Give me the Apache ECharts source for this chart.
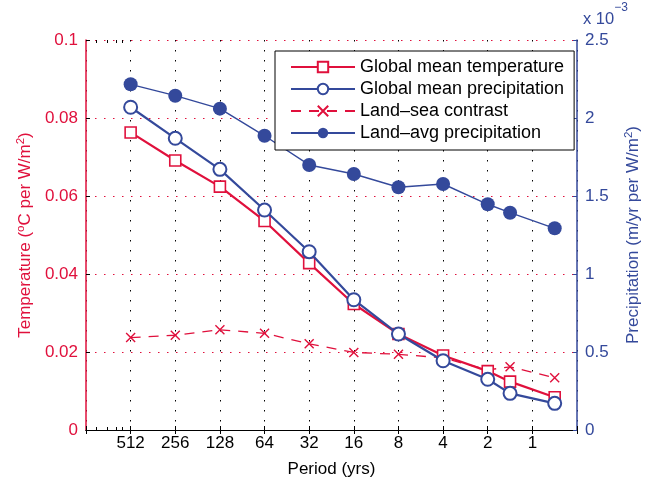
<!DOCTYPE html>
<html>
<head>
<meta charset="utf-8">
<script src="https://cdn.jsdelivr.net/npm/echarts@6/dist/echarts.min.js"></script>
<style>
  html, body { margin: 0; padding: 0; background: #fff; }
  #chart { width: 650px; height: 483px; }
</style>
</head>
<body>
<div id="chart"></div>
<script>
// 周期（年），横轴为对数坐标并反向
const periods = [512, 256, 128, 64, 32, 16, 8, 4, 2, 1.414, 0.707]
const xTickLabels = [512, 256, 128, 64, 32, 16, 8, 4, 2, 1]
// 左端的小刻度
const xMinorTicks = [870, 740, 645, 580]
// 左轴：温度 (°C per W/m²)
const globalTemp = [0.0763, 0.0691, 0.0624, 0.0536, 0.0428, 0.0323, 0.0246, 0.0191, 0.0151, 0.0124, 0.0084]
const landSea = [0.0237, 0.0243, 0.0257, 0.0248, 0.0221, 0.0199, 0.0194, 0.0185, 0.0154, 0.0162, 0.0134]
// 右轴：降水 (x 10^-3 m/yr per W/m²)
const globalPrecip = [2.069, 1.87, 1.671, 1.41, 1.143, 0.835, 0.615, 0.444, 0.325, 0.235, 0.171]
const landPrecip = [2.216, 2.143, 2.06, 1.886, 1.699, 1.641, 1.556, 1.577, 1.447, 1.393, 1.293]

const RED = '#e0103c'
const BLUE = '#34499b'
const FONT = 'Liberation Sans'

const pairs = vals => periods.map((p, i) => [p, vals[i]])

const chart = echarts.init(document.getElementById('chart'))

const xBase = {
  type: 'log',
  logBase: 2,
  min: 0.5,
  max: 1024,
  interval: 1,
  inverse: true,
  gridIndex: 0
}

// 只画小刻度的辅助轴
const minorAxis = pos => Object.assign({}, xBase, {
  position: pos,
  axisLine: { show: false },
  axisTick: { show: true, inside: true, length: 3, customValues: xMinorTicks, lineStyle: { color: '#000' } },
  axisLabel: { show: false },
  splitLine: { show: false }
})

const options = {
  animation: false,
  textStyle: { fontFamily: FONT },
  grid: { left: 86, right: 68, top: 40, bottom: 53 },
  legend: {
    orient: 'vertical',
    left: 275,
    top: 51,
    width: 297,
    borderColor: '#000',
    borderWidth: 1,
    padding: [7, 10, 8, 15],
    itemWidth: 64,
    itemHeight: 13,
    itemGap: 4,
    selectedMode: false,
    backgroundColor: '#fff',
    textStyle: { fontSize: 18, color: '#000', fontFamily: FONT },
    data: ['Global mean temperature', 'Global mean precipitation', 'Land\u2013sea contrast', 'Land\u2013avg precipitation']
  },
  graphic: [{
    type: 'text',
    left: 583,
    top: 2,
    style: {
      text: '{b|x 10}{s|\u22123}',
      rich: {
        b: { fontSize: 16.5, fill: BLUE, fontFamily: FONT, padding: [9, 0, 0, 0] },
        s: { fontSize: 12, fill: BLUE, fontFamily: FONT, verticalAlign: 'top' }
      }
    }
  }],
  xAxis: [
    Object.assign({}, xBase, {
      position: 'bottom',
      name: 'Period (yrs)',
      nameLocation: 'middle',
      nameGap: 31,
      nameTextStyle: { fontSize: 17, color: '#000' },
      axisLine: { lineStyle: { color: '#000', width: 1.2 } },
      axisTick: { inside: true, length: 4, lineStyle: { color: '#000' } },
      axisLabel: {
        fontSize: 17,
        color: '#000',
        margin: 5,
        formatter: v => {
          const r = Math.round(v)
          return xTickLabels.indexOf(r) >= 0 && Math.abs(v - r) < 1e-6 ? String(r) : ''
        }
      },
      splitLine: { show: true, lineStyle: { color: '#000', type: [1.5, 8.5], width: 1 } }
    }),
    Object.assign({}, xBase, {
      position: 'top',
      axisLine: { lineStyle: { color: '#000', width: 1.2 } },
      axisTick: { inside: true, length: 4, lineStyle: { color: '#000' } },
      axisLabel: { show: false },
      splitLine: { show: false }
    }),
    minorAxis('bottom'),
    minorAxis('top')
  ],
  yAxis: [
    {
      type: 'value',
      position: 'left',
      min: 0,
      max: 0.1,
      interval: 0.02,
      name: '{t|Temperature (}{s|o}{t|C per W/m}{s|2}{t|)}',
      nameLocation: 'middle',
      nameGap: 47,
      nameTextStyle: {
        rich: {
          t: { fontSize: 17, color: RED, fontFamily: FONT },
          s: { fontSize: 11.5, color: RED, fontFamily: FONT, verticalAlign: 'top', padding: [0, 0, 9, 0] }
        }
      },
      axisLine: { show: true, lineStyle: { color: RED, width: 1.5 } },
      axisTick: { show: true, inside: true, length: 4, lineStyle: { color: '#000' } },
      axisLabel: { fontSize: 17, color: RED, margin: 8 },
      splitLine: { show: true, lineStyle: { color: RED, type: [1.5, 7.5], width: 1 } }
    },
    {
      type: 'value',
      position: 'right',
      min: 0,
      max: 2.5,
      interval: 0.5,
      name: '{t|Precipitation (m/yr per W/m}{s|2}{t|)}',
      nameLocation: 'middle',
      nameGap: 46,
      nameRotate: 90,
      nameTextStyle: {
        rich: {
          t: { fontSize: 17, color: BLUE, fontFamily: FONT },
          s: { fontSize: 11.5, color: BLUE, fontFamily: FONT, verticalAlign: 'top', padding: [0, 0, 9, 0] }
        }
      },
      axisLine: { show: true, lineStyle: { color: BLUE, width: 1.5 } },
      axisTick: { show: true, inside: true, length: 4, lineStyle: { color: BLUE } },
      axisLabel: { fontSize: 17, color: BLUE, margin: 8 },
      splitLine: { show: false }
    }
  ],
  series: [
    {
      name: 'Global mean temperature',
      type: 'line',
      yAxisIndex: 0,
      data: pairs(globalTemp),
      symbol: 'rect',
      symbolSize: 11,
      showAllSymbol: true,
      lineStyle: { color: RED, width: 2.2 },
      itemStyle: { color: '#fff', borderColor: RED, borderWidth: 1.6 },
      z: 3
    },
    {
      name: 'Global mean precipitation',
      type: 'line',
      yAxisIndex: 1,
      data: pairs(globalPrecip),
      symbol: 'emptyCircle',
      symbolSize: 13,
      showAllSymbol: true,
      lineStyle: { color: BLUE, width: 2.2 },
      itemStyle: { color: BLUE, borderColor: BLUE, borderWidth: 1.8 },
      z: 4
    },
    {
      name: 'Land\u2013sea contrast',
      type: 'line',
      yAxisIndex: 0,
      data: pairs(landSea),
      symbol: 'path://M0,0L10,10M10,0L0,10',
      symbolSize: 9,
      showAllSymbol: true,
      lineStyle: { color: RED, width: 1.3, type: [10, 8] },
      itemStyle: { color: 'rgba(0,0,0,0)', borderColor: RED, borderWidth: 1.4 },
      z: 2
    },
    {
      name: 'Land\u2013avg precipitation',
      type: 'line',
      yAxisIndex: 1,
      data: pairs(landPrecip),
      symbol: 'circle',
      symbolSize: 14,
      showAllSymbol: true,
      lineStyle: { color: BLUE, width: 1.4 },
      itemStyle: { color: BLUE },
      z: 2
    }
  ]
}

chart.setOption(options)
</script>
</body>
</html>
